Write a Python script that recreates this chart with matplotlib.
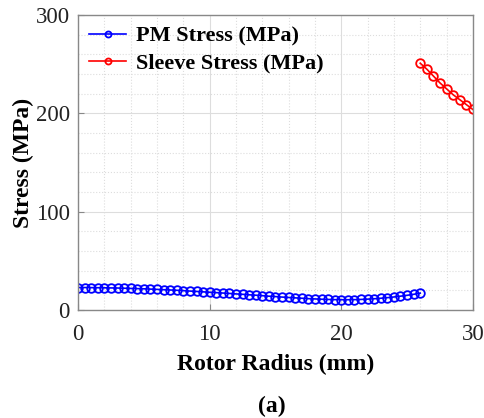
import matplotlib
matplotlib.use("Agg")
import matplotlib.pyplot as plt
from matplotlib.ticker import MultipleLocator

pm_radius = [i * 0.5 for i in range(53)]
pm_stress = [23.0, 23.0, 22.9, 22.8, 22.7, 22.6, 22.5, 22.3, 22.1, 21.9,
             21.7, 21.4, 21.1, 20.8, 20.5, 20.2, 19.8, 19.4, 19.0, 18.6,
             18.2, 17.8, 17.4, 17.0, 16.5, 16.1, 15.6, 15.2, 14.7, 14.2,
             13.8, 13.3, 12.9, 12.5, 12.1, 11.7, 11.4, 11.1, 10.9, 10.7,
             10.6, 10.6, 10.7, 10.9, 11.2, 11.6, 12.1, 12.7, 13.4, 14.2,
             15.1, 16.1, 17.3]
sleeve_radius = [26.0, 26.5, 27.0, 27.5, 28.0, 28.5, 29.0, 29.5, 30.0]
sleeve_stress = [251, 245, 238, 231, 225, 219, 214, 209, 204]

plt.rcParams['font.family'] = ['Liberation Serif', 'DejaVu Serif']
plt.rcParams['mathtext.fontset'] = 'stix'

fig = plt.figure(figsize=(4.85, 4.18), dpi=100)
ax = fig.add_axes([0.161, 0.258, 0.814, 0.706])

ax.plot(pm_radius, pm_stress, color='blue', marker='o', markersize=6.2,
        markerfacecolor='none', markeredgewidth=1.3, linewidth=1.2,
        label='PM Stress (MPa)')
ax.plot(sleeve_radius, sleeve_stress, color='red', marker='o', markersize=6.2,
        markerfacecolor='none', markeredgewidth=1.3, linewidth=1.2,
        label='Sleeve Stress (MPa)')

ax.set_xlim(0, 30)
ax.set_ylim(0, 300)
ax.xaxis.set_major_locator(MultipleLocator(10))
ax.xaxis.set_minor_locator(MultipleLocator(2))
ax.yaxis.set_major_locator(MultipleLocator(100))
ax.yaxis.set_minor_locator(MultipleLocator(20))
ax.grid(which='major', color='#dddddd', linestyle='-', linewidth=0.8)
ax.grid(which='minor', color='#dddddd', linestyle=':', linewidth=0.8)
ax.set_axisbelow(True)
for s in ax.spines.values():
    s.set_color('#888888')
    s.set_linewidth(1.0)
ax.tick_params(which='major', direction='in', length=4, color='#888888',
               labelsize=16.5, labelcolor='#222222')
ax.tick_params(axis='x', which='major', pad=10)
ax.tick_params(axis='y', which='major', pad=6)
ax.tick_params(which='minor', length=0)

ax.set_xlabel('Rotor Radius (mm)', fontsize=17, fontweight='bold', labelpad=6)
ax.set_ylabel('Stress (MPa)', fontsize=17, fontweight='bold', labelpad=1)

leg = ax.legend(loc='upper left', frameon=False,
                prop={'weight': 'bold', 'size': 16},
                handlelength=1.65, borderaxespad=0.3, borderpad=0.2,
                labelspacing=0.3, handletextpad=0.45, markerscale=0.7)

fig.text(0.56, 0.015, '(a)', fontsize=17, fontweight='bold', ha='center')

fig.savefig('out.png', dpi=100)
